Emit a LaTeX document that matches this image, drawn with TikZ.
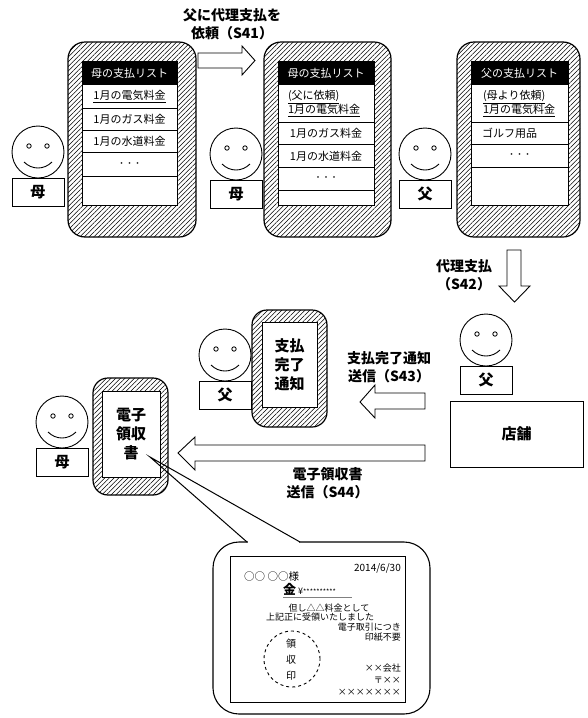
\documentclass[tikz,border=0pt]{standalone}
\usepackage{fontspec}
\setmainfont{Noto Sans CJK JP}
\usetikzlibrary{patterns.meta,calc}

% a smiling person: head circle, eyes, mouth and a name tag below
\newcommand{\drawperson}[4]{%
  \node[head] (#1) at (#2,#3) {};
  \draw[line width=0.8pt] ($(#1)+(-9,-6)$) circle (2.2);
  \draw[line width=0.8pt] ($(#1)+(9,-6)$) circle (2.2);
  \draw[line width=0.9pt] ($(#1)+(-14,10)$) .. controls ($(#1)+(-6,18)$) and ($(#1)+(6,18)$) .. ($(#1)+(14,10)$);
  \node[tag] (#1tag) at ($(#1)+(0,40)$) {#4};
}

\begin{document}
\begin{tikzpicture}[x=1pt,y=-1pt,
  case/.style={draw, line width=1.2pt, pattern={Lines[angle=45, distance=3.3pt, line width=0.55pt]},
               rounded corners=#1, inner sep=0pt},
  case/.default=17pt,
  screen/.style={draw, fill=white, line width=0.9pt, inner sep=0pt},
  row/.style={draw, fill=white, line width=0.8pt, anchor=north, inner sep=0pt,
              font=\fontsize{11}{13}\selectfont},
  header/.style={row, fill=black, text=white, minimum height=23pt},
  head/.style={draw, circle, fill=white, minimum size=52pt, inner sep=0pt, line width=0.9pt},
  tag/.style={draw, fill=white, minimum width=52pt, minimum height=28pt, inner sep=0pt,
              line width=0.9pt, font=\fontsize{15}{15}\selectfont\bfseries},
  blockarrow/.style={draw, fill=white, line width=0.9pt, line join=miter},
  lbl/.style={font=\fontsize{14}{18}\selectfont\bfseries, align=center, inner sep=0pt},
  big/.style={font=\fontsize{15}{19}\selectfont\bfseries, align=center, inner sep=0pt},
  rcpt/.style={font=\fontsize{9}{10}\selectfont, inner sep=0pt},
  dots/.style={font=\fontsize{8}{8}\selectfont}
]
\fill[white] (0,0) rectangle (588,718);
\useasboundingbox (0,0) rectangle (588,718);

% ---------- mother's phone before the request ----------
\node[case, minimum width=128pt, minimum height=195pt] (ph1) at (132,139.5) {};
\node[screen, minimum width=95pt, minimum height=144pt] (sc1) at (129.5,133) {};
\node[header, minimum width=95pt] (h1) at (129.5,61) {母の支払リスト};
\node[row, minimum width=95pt, minimum height=24pt] (a1) at (129.5,84) {\underline{1月の電気料金}};
\node[row, minimum width=95pt, minimum height=22pt] (a2) at (129.5,108) {1月のガス料金};
\node[row, minimum width=95pt, minimum height=22pt] (a3) at (129.5,130) {1月の水道料金};
\node[row, minimum width=95pt, minimum height=24pt, dots] (a4) at (129.5,152) {・・・};
\node[row, minimum width=95pt, minimum height=29pt] (a5) at (129.5,176) {};
\drawperson{m1}{38}{152}{母}

% ---------- request arrow ----------
\draw[blockarrow] (198,53) -- (242,53) -- (242,46) -- (255,60.5) -- (242,75) -- (242,68) -- (198,68) -- cycle;
\node[lbl] (s41) at (232,24) {父に代理支払を\\依頼（S41）};

% ---------- mother's phone after the request ----------
\node[case, minimum width=127pt, minimum height=195pt] (ph2) at (327.5,139.5) {};
\node[screen, minimum width=96pt, minimum height=144pt] (sc2) at (326,133) {};
\node[header, minimum width=96pt] (h2) at (326,61) {母の支払リスト};
\node[row, minimum width=96pt, minimum height=38pt, text width=76pt, align=left] (b1) at (326,84)
  {\underline{(父に依頼)}\\\underline{1月の電気料金}};
\node[row, minimum width=96pt, minimum height=22pt] (b2) at (326,122) {1月のガス料金};
\node[row, minimum width=96pt, minimum height=23pt] (b3) at (326,144) {1月の水道料金};
\node[row, minimum width=96pt, minimum height=23pt, dots] (b4) at (326,167) {・・・};
\node[row, minimum width=96pt, minimum height=15pt] (b5) at (326,190) {};
\drawperson{m2}{236}{154}{母}

% ---------- father's phone ----------
\node[case, minimum width=123pt, minimum height=195pt] (ph3) at (518.5,139.5) {};
\node[screen, minimum width=97pt, minimum height=144pt] (sc3) at (519.5,133) {};
\node[header, minimum width=97pt] (h3) at (519.5,61) {父の支払リスト};
\node[row, minimum width=97pt, minimum height=38pt, text width=73pt, align=left] (c1) at (519.5,84)
  {\underline{(母より依頼)}\\\underline{1月の電気料金}};
\node[row, minimum width=97pt, minimum height=22pt, text width=75pt, align=left] (c2) at (519.5,122) {ゴルフ用品};
\node[row, minimum width=97pt, minimum height=23pt, dots] (c3) at (519.5,144) {・・・};
\node[row, minimum width=97pt, minimum height=38pt] (c4) at (519.5,167) {};
\drawperson{f1}{425}{154}{父}

% ---------- proxy payment ----------
\draw[blockarrow] (507,250) -- (521,250) -- (521,286) -- (530,286) -- (514.5,302) -- (499,286) -- (507,286) -- cycle;
\node[lbl] (s42) at (464,275) {代理支払\\（S42）};

\drawperson{f2}{486}{340}{父}
\node[draw, line width=0.9pt, minimum width=133pt, minimum height=66pt, inner sep=0pt,
      font=\fontsize{15}{15}\selectfont\bfseries] (shop) at (516.5,434) {店舗};

% ---------- completion notice ----------
\draw[blockarrow] (425,393) -- (375,393) -- (375,385) -- (360,402) -- (375,418) -- (375,409) -- (425,409) -- cycle;
\node[lbl] (s43) at (389,367.5) {支払完了通知\\送信（S43）};

\node[case=15pt, minimum width=75pt, minimum height=117pt] (ph4) at (289.5,368.5) {};
\node[screen, minimum width=55pt, minimum height=85pt, big] (sc4) at (289.5,364.5) {支払\\完了\\通知};
\drawperson{f3}{225}{355}{父}

% ---------- electronic receipt ----------
\draw[blockarrow] (425,445) -- (195,445) -- (195,437) -- (178,453) -- (195,470) -- (195,461) -- (425,461) -- cycle;
\node[lbl] (s44) at (327.5,483.5) {電子領収書\\送信（S44）};

\node[case=15pt, minimum width=75pt, minimum height=117pt] (ph5) at (130.5,436.5) {};
\node[screen, minimum width=58pt, minimum height=86pt, big] (sc5) at (131,434) {電子\\領収\\書};
\drawperson{m3}{62}{422}{母}

% ---------- speech bubble with the receipt ----------
\node[draw, fill=white, rounded corners=26pt, line width=1.1pt, minimum width=217pt,
      minimum height=172pt, inner sep=0pt] (bubble) at (321.5,628) {};
\coordinate (tip) at (150,457);
\coordinate (tl) at (247,542);
\coordinate (tr) at (300,542);
\fill[white] (248,540) rectangle (299,544);
\draw[line width=1pt] (tl) -- (tip) -- (tr);

\node[draw, line width=0.8pt, minimum width=175pt, minimum height=146pt, inner sep=0pt] (receipt) at (317.5,629) {};
\node[rcpt, anchor=east, font=\fontsize{10}{10}\selectfont] (date) at (401,568) {2014/6/30};
\node[rcpt, anchor=west, font=\fontsize{10.5}{11}\selectfont] (name) at (244,577) {○○ ○○様};
\node[rcpt, anchor=west] (amount) at (283,589.5) {{\fontsize{13}{13}\selectfont\bfseries 金} ¥{\fontsize{7}{7}\selectfont **********}};
\draw[gray, line width=0.9pt] (amount.south west) ++(0,2) -- ++(69,0);
\node[rcpt] (but) at (329,608) {但し△△料金として};
\node[rcpt] (recv) at (320,617.5) {上記正に受領いたしました};
\node[rcpt, anchor=east] (ele) at (401,627) {電子取引につき};
\node[rcpt, anchor=east] (stamp) at (401,637) {印紙不要};
\node[draw, dashed, circle, line width=0.9pt, minimum size=56pt, inner sep=0pt] (seal) at (292,659) {};
\node[font=\fontsize{10}{16}\selectfont, align=center, inner sep=0pt] (sealtext) at (291,660) {領\\収\\印};
\node[rcpt, anchor=east] (co) at (401,668) {××会社};
\node[rcpt, anchor=east] (zip) at (401,680) {〒××};
\node[rcpt, anchor=east] (addr) at (401,692) {×××××××};

\end{tikzpicture}
\end{document}
